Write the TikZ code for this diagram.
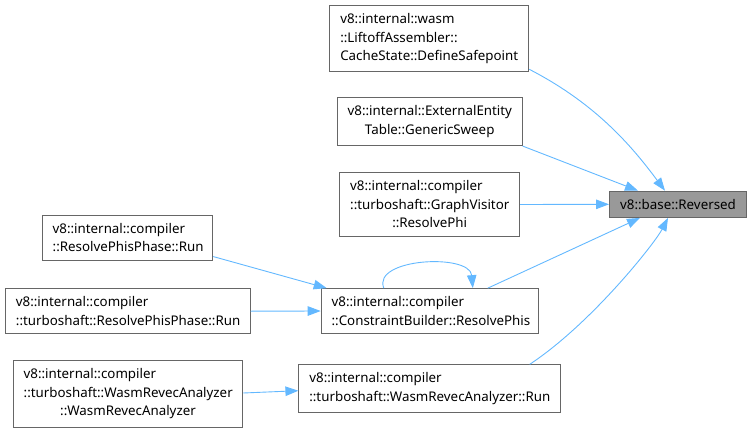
\documentclass[tikz,border=0pt]{standalone}
\usepackage{fontspec}
\setmainfont{Noto Sans}
\usepackage{xcolor}
\usepackage{tikz}
\usetikzlibrary{arrows.meta}
\definecolor{EdgeBlue}{HTML}{63B8FF}
\definecolor{BoxGrey}{HTML}{666666}
\definecolor{RootGrey}{HTML}{999999}
\newcommand{\midline}[1]{\hspace*{\fill}#1\hspace*{\fill}}

\begin{document}
\begin{tikzpicture}[x=1pt, y=-1pt,
            funcbox/.style={draw=BoxGrey, line width=0.9pt, fill=white, text=black, align=left, font=\fontsize{13.33}{18.5}\selectfont, inner xsep=10.5pt, inner ysep=8pt},
            rootbox/.style={funcbox, fill=RootGrey, align=center},
            arrow/.style={-{Triangle[length=13pt, width=9.5pt]}, line width=0.9pt, EdgeBlue}
        ]
            \useasboundingbox (0,0) rectangle (754,433);
            \node[rootbox, minimum width=137pt] (reversed) at (678,204.3) {v8::base::Reversed};
            \node[funcbox, text width=178pt] (safepoint) at (429.3,38.7) {v8::internal::wasm\\::LiftoffAssembler::\\CacheState::DefineSafepoint};
            \node[funcbox, text width=164pt] (sweep) at (429.7,121.7) {v8::internal::ExternalEntity\\\midline{Table::GenericSweep}};
            \node[funcbox, text width=159pt] (resolvephi) at (429.7,204.5) {v8::internal::compiler\\::turboshaft::GraphVisitor\\\midline{::ResolvePhi}};
            \node[funcbox, text width=149.6pt] (phase) at (127.5,237.7) {v8::internal::compiler\\::ResolvePhisPhase::Run};
            \node[funcbox, text width=223.7pt] (tsphase) at (127.8,311.2) {v8::internal::compiler\\::turboshaft::ResolvePhisPhase::Run};
            \node[funcbox, text width=196.3pt] (constraint) at (429.8,311) {v8::internal::compiler\\::ConstraintBuilder::ResolvePhis};
            \node[funcbox, text width=208.6pt] (revecctor) at (128,394) {v8::internal::compiler\\::turboshaft::WasmRevecAnalyzer\\\midline{::WasmRevecAnalyzer}};
            \node[funcbox, text width=240.7pt] (revecrun) at (429.7,388.7) {v8::internal::compiler\\::turboshaft::WasmRevecAnalyzer::Run};

            \draw[arrow] ([yshift=3pt]safepoint.south east) .. controls +(70,36) and +(-30,-40) .. ([xshift=-13pt]reversed.north);
            \draw[arrow] (sweep.south east) -- ([xshift=-40pt]reversed.north);
            \draw[arrow] (resolvephi.east) -- (reversed.west);
            \draw[arrow] ([xshift=58pt]constraint.north) -- ([xshift=-38pt]reversed.south);
            \draw[arrow] ([xshift=100pt]revecrun.north) .. controls +(62,-41) and +(-13,25) .. ([xshift=-10pt]reversed.south);
            \draw[arrow] ([xshift=-46pt]constraint.north) .. controls +(-12,-30) and +(-3,-35) .. ([xshift=43pt]constraint.north);
            \draw[arrow] ([yshift=4pt]phase.south east) -- ([xshift=6pt]constraint.north west);
            \draw[arrow] (tsphase.east) -- (constraint.west);
            \draw[arrow] ([yshift=1pt]revecctor.east) -- ([yshift=-2pt]revecrun.west);

        \end{tikzpicture}
\end{document}
